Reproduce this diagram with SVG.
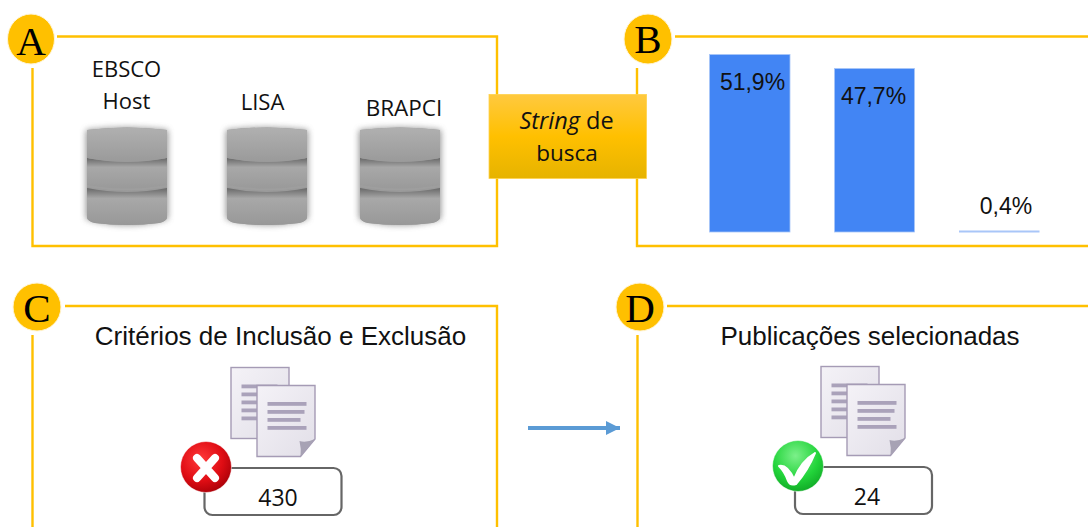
<svg xmlns="http://www.w3.org/2000/svg" xmlns:xlink="http://www.w3.org/1999/xlink" width="1088" height="527" viewBox="0 0 1088 527">
<style>
.frame{fill:none;stroke:#ffc000;stroke-width:2.4}
.badge{fill:#ffc000;stroke:#fff6d8;stroke-width:1}
.letter{font-family:"Liberation Serif",serif;font-size:41px;fill:#000;text-anchor:middle}
.seg{font-family:"Open Sans","Noto Sans",sans-serif;fill:#111;text-anchor:middle}
.ari{font-family:"Liberation Sans",Arial,sans-serif;fill:#111;text-anchor:middle}
.bar{fill:#4285f4;stroke:#a9c6f8;stroke-width:.8}
.count{fill:#fff;stroke:#666;stroke-width:2.2}
.line{fill:#aaa2ba}
</style>
<defs>
<linearGradient id="busca" x1="0" y1="0" x2="0" y2="1"><stop offset="0" stop-color="#ffc93f"/><stop offset=".5" stop-color="#ffc000"/><stop offset="1" stop-color="#e6b300"/></linearGradient>
<linearGradient id="layer" x1="0" y1="0" x2="0" y2="1"><stop offset="0" stop-color="#b0b0b0"/><stop offset="1" stop-color="#9a9a9a"/></linearGradient>
<linearGradient id="layer2" x1="0" y1="0" x2="0" y2="1"><stop offset="0" stop-color="#686868"/><stop offset=".28" stop-color="#a8a8a8"/><stop offset="1" stop-color="#989898"/></linearGradient>
<linearGradient id="paper" x1="0" y1="0" x2="1" y2="1"><stop offset="0" stop-color="#f4f2f7"/><stop offset="1" stop-color="#e2dfe8"/></linearGradient>
<radialGradient id="red" cx=".4" cy=".35" r=".7"><stop offset="0" stop-color="#ff3a3a"/><stop offset=".6" stop-color="#e00d14"/><stop offset="1" stop-color="#a80008"/></radialGradient>
<radialGradient id="green" cx=".45" cy=".3" r=".75"><stop offset="0" stop-color="#7cf08a"/><stop offset=".6" stop-color="#22d43a"/><stop offset="1" stop-color="#0fa524"/></radialGradient>
<filter id="soft" x="-20%" y="-20%" width="140%" height="140%"><feGaussianBlur stdDeviation=".7"/></filter>
<filter id="glow" x="-20%" y="-20%" width="140%" height="140%"><feGaussianBlur stdDeviation="3"/></filter>
<marker id="head" markerUnits="userSpaceOnUse" markerWidth="16" markerHeight="16" refX="14" refY="7" orient="auto"><path d="M0 0L14 7L0 14z" fill="#5b9bd5"/></marker>
<g id="cyl">
<path d="M-1 4Q40 -1 81 4V93Q40 105 -1 93z" fill="#666" opacity=".7" filter="url(#glow)"/>
<g filter="url(#soft)">
<path d="M0 4Q40 -1 80 4V91Q80 95 72 97Q40 101 8 97Q0 95 0 91z" fill="#9a9a9a"/>
<path d="M0 62Q40 70 80 62V91Q80 95 72 97Q40 101 8 97Q0 95 0 91z" fill="url(#layer2)"/>
<path d="M0 32Q40 40 80 32V61Q40 69 0 61z" fill="url(#layer2)"/>
<path d="M0 4Q40 -1 80 4V30Q80 32 78 32.500Q40 39 2 32.500Q0 32 0 30z" fill="url(#layer)"/>
<path d="M0 61Q40 68 80 61V59Q40 66 0 59z" fill="#9e9e9e"/>
</g>
</g>
<g id="docs" filter="url(#soft)">
<rect x="0.500" y="0.500" width="58" height="71" fill="url(#paper)" stroke="#a59bb5" stroke-width="1.400"/>
<rect class="line" x="11" y="17.500" width="36" height="3.800"/><rect class="line" x="11" y="25.500" width="34" height="3.800"/><rect class="line" x="11" y="33.500" width="30" height="3.800"/><rect class="line" x="11" y="41.500" width="36" height="3.800"/><rect class="line" x="11" y="49.500" width="30" height="3.800"/>
<path d="M26.500 18.500H84.500V72L70 89.500H26.500z" fill="url(#paper)" stroke="#a59bb5" stroke-width="1.400"/>
<path d="M70 89.500L84.500 72Q76 76 69 74Q71 82 70 89.500z" fill="#a7a2b4"/>
<rect class="line" x="37" y="35" width="39" height="3.800"/><rect class="line" x="37" y="43" width="37" height="3.800"/><rect class="line" x="37" y="51" width="33" height="3.800"/><rect class="line" x="37" y="59" width="39" height="3.800"/>
</g>
</defs>
<rect width="1088" height="527" fill="#fff"/>

<g id="connectors">
<path d="M528 428H620" fill="none" stroke="#5b9bd5" stroke-width="4" marker-end="url(#head)"/>
</g>

<g id="node-a">
<path class="frame" d="M57 36.500H497V246H32.500V68"/>
<ellipse class="badge" cx="31" cy="39" rx="23.500" ry="25"/>
<text class="letter" x="31" y="55">A</text>
<text class="seg" font-size="22" x="126.500" y="77">EBSCO</text>
<text class="seg" font-size="22" x="126.500" y="109">Host</text>
<text class="seg" font-size="22" x="262.500" y="110">LISA</text>
<text class="seg" font-size="22.500" x="404" y="116">BRAPCI</text>
<use href="#cyl" transform="translate(87 126)"/>
<use href="#cyl" transform="translate(227 126)"/>
<use href="#cyl" transform="translate(360 126)"/>
</g>

<g id="node-b">
<path class="frame" d="M675 36.500H1088M637 68V246H1088"/>
<ellipse class="badge" cx="648" cy="39" rx="24" ry="25"/>
<text class="letter" x="648" y="53">B</text>
<rect class="bar" x="709.500" y="54.500" width="80.500" height="177.500"/>
<rect class="bar" x="834.500" y="68.500" width="80" height="163.500"/>
<rect x="959" y="230.500" width="80.500" height="2" fill="#a9c6f8"/>
<text class="ari" font-size="23" x="752.500" y="90">51,9%</text>
<text class="ari" font-size="23" x="873.500" y="104">47,7%</text>
<text class="ari" font-size="23" x="1006" y="214" fill="#333">0,4%</text>
</g>

<g id="node-string">
<rect x="489" y="94.500" width="157.500" height="84" fill="url(#busca)" stroke="#ffd24d" stroke-width=".8"/>
<text class="seg" font-size="23.500" x="566.500" y="129"><tspan font-style="italic">String</tspan> de</text>
<text class="seg" font-size="22.500" x="567" y="161">busca</text>
</g>

<g id="node-c">
<path class="frame" d="M65 306H497V527M32.500 335V527"/>
<circle class="badge" cx="37" cy="307" r="24"/>
<text class="letter" x="37" y="321.500">C</text>
<text class="ari" font-size="26" x="280.500" y="345">Critérios de Inclusão e Exclusão</text>
<use href="#docs" transform="translate(230.500 367)"/>
<rect class="count" x="204.500" y="468" width="137" height="47" rx="8"/>
<circle cx="206" cy="467" r="25.500" fill="url(#red)" stroke="#fff" stroke-opacity=".5"/>
<path d="M197 458L215 478M215 458L197 478" fill="none" stroke="#fff" stroke-width="8" stroke-linecap="round"/>
<text class="seg" font-size="23" x="278" y="506">430</text>
</g>

<g id="node-d">
<path class="frame" d="M667 306H1088M637.500 335V527"/>
<circle class="badge" cx="640" cy="307" r="24"/>
<text class="letter" x="640" y="321.500">D</text>
<text class="ari" font-size="26" x="870" y="345">Publicações selecionadas</text>
<use href="#docs" transform="translate(820.500 366)"/>
<rect class="count" x="795" y="467" width="137" height="47" rx="8"/>
<circle cx="798" cy="466" r="25.500" fill="url(#green)" stroke="#fff" stroke-opacity=".5"/>
<path d="M779 466Q787 464 794 479Q801 461 815 453Q808 470 796 484Q790 486 788 481Q785 472 779 466z" fill="#fff" stroke="#fff" stroke-width="2" stroke-linejoin="round"/>
<text class="seg" font-size="23" x="867" y="505">24</text>
</g>
</svg>
